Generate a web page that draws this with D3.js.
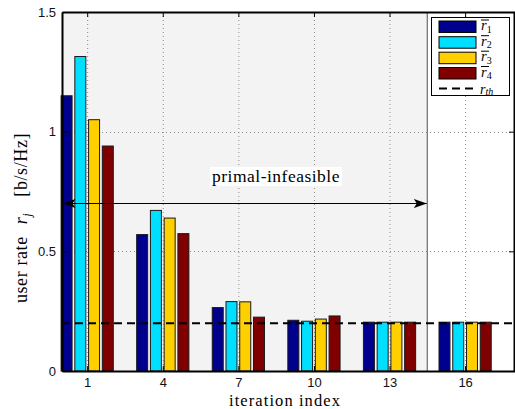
<!DOCTYPE html>
<html><head><meta charset="utf-8">
<script src="https://cdn.jsdelivr.net/npm/d3@7"></script>
<style>
body{margin:0;background:#fff;}
svg{display:block;}
.tick text{font-family:"Liberation Sans",Arial,sans-serif;font-size:13px;}
</style></head>
<body>
<svg id="chart" width="515" height="409"></svg>
<script>
const iterations = [1, 4, 7, 10, 13, 16];
const r1 = [1.15, 0.57, 0.265, 0.212, 0.204, 0.204];
const r2 = [1.314, 0.671, 0.29, 0.208, 0.204, 0.204];
const r3 = [1.05, 0.639, 0.289, 0.217, 0.204, 0.204];
const r4 = [0.94, 0.574, 0.225, 0.23, 0.204, 0.204];
const rth = 0.2;
const yTicks = [0, 0.5, 1, 1.5];
const seriesNames = ["1", "2", "3", "4"];
const colors = ["#00008f", "#00dfff", "#ffcf00", "#800000"];
const infeasibleEnd = 14.5;
const arrowY = 0.7;

const SERIF = "'Liberation Serif','Times New Roman',serif";
const series = [r1, r2, r3, r4];
const svg = d3.select("#chart");
const M = {l: 62, r: 515.5, t: 12, b: 371};
const x = d3.scaleLinear().domain([0, 18]).range([M.l, M.r]);
const y = d3.scaleLinear().domain([0, 1.5]).range([M.b, M.t]);

function fit(sel, target) {
  const node = sel.node();
  const w = node.getComputedTextLength();
  const n = node.textContent.length;
  sel.attr("letter-spacing", ((target - w) / n).toFixed(2));
}

// background shading (primal-infeasible region)
svg.append("rect").attr("x", x(0)).attr("y", M.t)
  .attr("width", x(infeasibleEnd) - x(0)).attr("height", M.b - M.t)
  .attr("fill", "#f3f3f3");

// grid
const grid = svg.append("g").attr("stroke", "#8a8a8a").attr("stroke-width", 1)
  .attr("stroke-dasharray", "1,3");
iterations.forEach(v => grid.append("line").attr("x1", x(v)+0.5).attr("x2", x(v)+0.5)
  .attr("y1", M.t).attr("y2", M.b));
yTicks.slice(1, -1).forEach(v => grid.append("line").attr("x1", M.l).attr("x2", M.r)
  .attr("y1", Math.round(y(v))+0.5).attr("y2", Math.round(y(v))+0.5));

// vertical separator
svg.append("line").attr("x1", x(infeasibleEnd)).attr("x2", x(infeasibleEnd))
  .attr("y1", M.t).attr("y2", M.b).attr("stroke", "#777").attr("stroke-width", 1.3);

// bars
const groupWidth = 3 * 4 / 5.5;
const slot = groupWidth / 4;
const barW = x(slot * 0.8) - x(0);
series.forEach((s, si) => {
  svg.append("g").selectAll("rect").data(s).join("rect")
    .attr("x", (d, i) => x(iterations[i] + (si - 1.5) * slot) - barW / 2)
    .attr("y", d => y(d))
    .attr("width", barW)
    .attr("height", d => y(0) - y(d))
    .attr("fill", colors[si])
    .attr("stroke", "#1a1a1a").attr("stroke-width", 1);
});

// threshold line
svg.append("line").attr("x1", M.l).attr("x2", M.r)
  .attr("y1", y(rth)).attr("y2", y(rth))
  .attr("stroke", "#000").attr("stroke-width", 2).attr("stroke-dasharray", "8,5");

// arrow
const defs = svg.append("defs");
["start", "end"].forEach(k => {
  defs.append("marker").attr("id", "ah-" + k).attr("viewBox", "0 -5 14 10")
    .attr("refX", 13).attr("refY", 0).attr("markerWidth", 14).attr("markerHeight", 10)
    .attr("markerUnits", "userSpaceOnUse")
    .attr("orient", k === "start" ? "auto-start-reverse" : "auto")
    .append("path").attr("d", "M0,-4.5L13,0L0,4.5L3,0Z").attr("fill", "#000");
});
svg.append("line").attr("x1", x(0) + 0.5).attr("x2", x(infeasibleEnd) - 0.5)
  .attr("y1", Math.round(y(arrowY)) + 0.5).attr("y2", Math.round(y(arrowY)) + 0.5)
  .attr("stroke", "#000").attr("stroke-width", 1.2)
  .attr("marker-start", "url(#ah-start)").attr("marker-end", "url(#ah-end)");

// annotation text
const ann = svg.append("g");
const annText = ann.append("text").attr("x", 276).attr("y", 182)
  .attr("text-anchor", "middle")
  .attr("font-family", SERIF)
  .attr("font-size", 17.5).text("primal-infeasible");
fit(annText, 128);
const bb = annText.node().getBBox();
ann.insert("rect", "text").attr("x", bb.x - 2).attr("y", bb.y + 1).attr("width", bb.width + 4)
  .attr("height", bb.height - 1).attr("fill", "#fff");

// axes
const xAxis = d3.axisBottom(x).tickValues(iterations).tickSize(-5).tickSizeOuter(0).tickPadding(7);
svg.append("g").attr("transform", `translate(0,${M.b})`).call(xAxis);
const yAxis = d3.axisLeft(y).tickValues(yTicks).tickFormat(d => d === 0 ? "0" : String(d))
  .tickSize(-5).tickSizeOuter(0).tickPadding(6);
svg.append("g").attr("transform", `translate(${M.l},0)`).call(yAxis);
const xTop = d3.axisTop(x).tickValues(iterations).tickSize(-5).tickSizeOuter(0).tickFormat("");
svg.append("g").attr("transform", `translate(0,${M.t})`).call(xTop);
const yRight = d3.axisRight(y).tickValues(yTicks).tickSize(-5).tickSizeOuter(0).tickFormat("");
svg.append("g").attr("transform", `translate(${M.r - 1.5},0)`).call(yRight);
svg.selectAll(".domain").attr("stroke", "#000").attr("stroke-width", 2);
svg.selectAll(".tick line").attr("stroke", "#000");
svg.selectAll(".tick text").attr("fill", "#111");

// axis labels
const xl = svg.append("text").attr("x", 285).attr("y", 405.5).attr("text-anchor", "middle")
  .attr("font-family", SERIF).attr("font-size", 16.5)
  .text("iteration index");
fit(xl, 112);
const yl = svg.append("text").attr("transform", "translate(27,218) rotate(-90)")
  .attr("text-anchor", "middle")
  .attr("font-family", SERIF).attr("font-size", 18).attr("letter-spacing", 0.6);
yl.append("tspan").text("user rate");
yl.append("tspan").attr("font-style", "italic").attr("dx", 12).text("r");
yl.append("tspan").attr("font-style", "italic").attr("font-size", 12).attr("dy", 4).text("j");
yl.append("tspan").attr("dy", -4).attr("dx", 16).text("[b/s/Hz]");

// legend
const lg = svg.append("g");
lg.append("rect").attr("x", 431.5).attr("y", 17.5).attr("width", 78).attr("height", 78)
  .attr("fill", "#fff").attr("stroke", "#000").attr("stroke-width", 1);
const rowY = [27, 42.7, 58.2, 73.5, 88.5];
seriesNames.forEach((n, i) => {
  lg.append("rect").attr("x", 439).attr("y", rowY[i] - 6).attr("width", 37).attr("height", 11.5)
    .attr("fill", colors[i]).attr("stroke", "#000").attr("stroke-width", 1);
  const t = lg.append("text").attr("x", 481).attr("y", rowY[i] + 3)
    .attr("font-family", SERIF).attr("font-size", 14.5);
  t.append("tspan").attr("font-style", "italic").text("r");
  t.append("tspan").attr("font-size", 10).attr("dy", 2.5).text(n);
  lg.append("line").attr("x1", 481).attr("x2", 489).attr("y1", rowY[i] - 7).attr("y2", rowY[i] - 7)
    .attr("stroke", "#000").attr("stroke-width", 1);
});
lg.append("line").attr("x1", 439).attr("x2", 477).attr("y1", rowY[4]).attr("y2", rowY[4])
  .attr("stroke", "#000").attr("stroke-width", 2).attr("stroke-dasharray", "8,5");
const tt = lg.append("text").attr("x", 480).attr("y", 93.5)
  .attr("font-family", SERIF).attr("font-size", 14);
tt.append("tspan").attr("font-style", "italic").text("r");
tt.append("tspan").attr("font-style", "italic").attr("font-size", 10).attr("dy", 1.5).text("th");
</script>
</body></html>
